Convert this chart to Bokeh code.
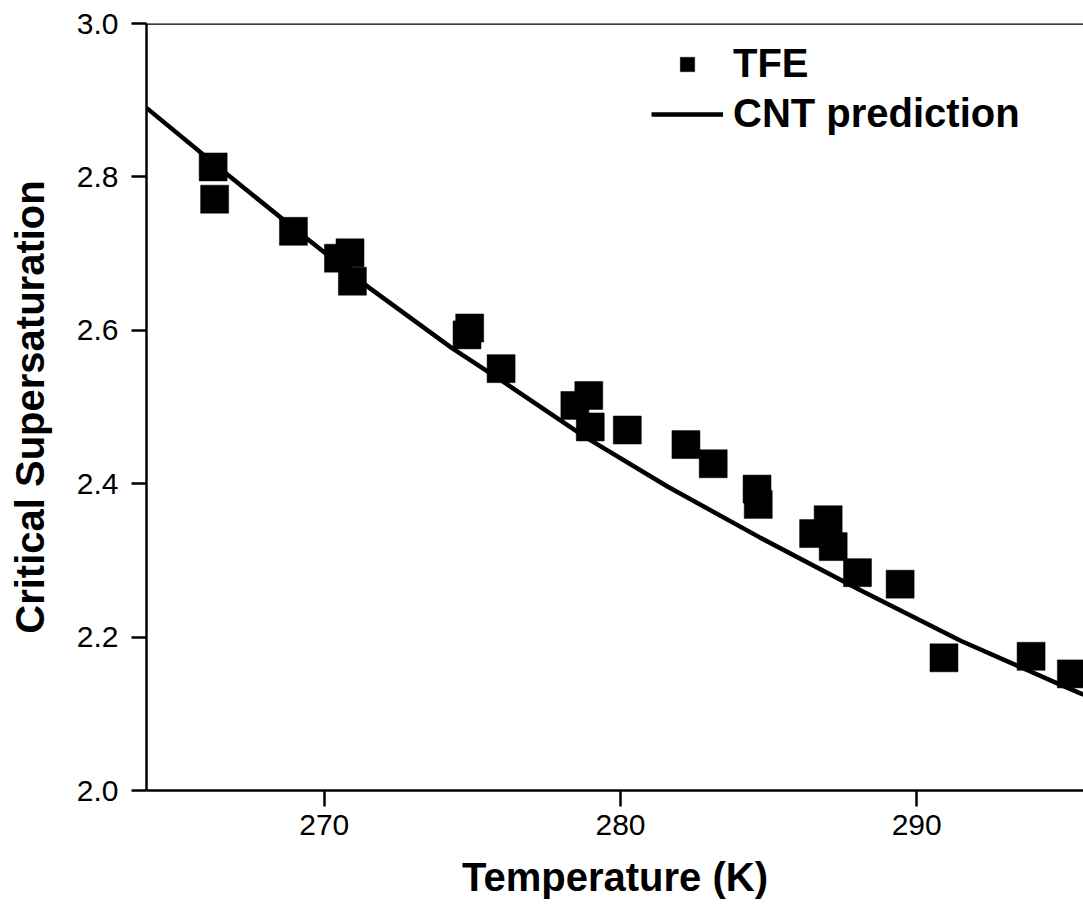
from bokeh.plotting import figure
from bokeh.models import (LinearAxis, FixedTicker, PrintfTickFormatter, Range1d,
                          Legend, LegendItem, Span)
from bokeh.embed import file_html
from bokeh.resources import INLINE

# ---- data ----
tfe_temp = [266.25, 266.30, 268.96, 270.48, 270.87, 270.95, 274.82, 274.91,
            275.97, 278.46, 278.93, 278.98, 280.23, 282.21, 283.13, 284.61,
            284.65, 286.52, 287.01, 287.18, 288.00, 289.44, 290.92, 293.86,
            295.22]
tfe_ss = [2.813, 2.771, 2.729, 2.694, 2.701, 2.664, 2.594, 2.603,
          2.550, 2.502, 2.515, 2.474, 2.470, 2.451, 2.426, 2.393,
          2.373, 2.335, 2.353, 2.318, 2.284, 2.269, 2.173, 2.175,
          2.152]
cnt_temp = [264.0, 266.7, 269.4, 271.5, 274.3, 276.0, 278.8, 281.6,
            284.7, 288.1, 291.5, 294.9, 295.63]
cnt_ss = [2.890, 2.804, 2.720, 2.656, 2.577, 2.534, 2.461, 2.396,
          2.330, 2.261, 2.195, 2.137, 2.125]
x_ticks = [270, 280, 290]
y_ticks = [2.0, 2.2, 2.4, 2.6, 2.8, 3.0]

FONT = "Liberation Sans"

p = figure(width=1083, height=909, output_backend="svg", toolbar_location=None,
           x_range=Range1d(264.0, 295.63), y_range=Range1d(2.0, 3.0),
           min_border_left=146, min_border_right=0, min_border_top=23,
           min_border_bottom=119, x_axis_type=None, y_axis_type=None)
p.grid.visible = False
p.outline_line_color = None
p.background_fill_color = "white"
p.border_fill_color = "white"

def style_axis(ax):
    ax.axis_line_width = 2.5
    ax.axis_line_color = "black"
    ax.major_tick_line_width = 2.5
    ax.major_tick_line_color = "black"
    ax.minor_tick_line_color = None
    ax.major_tick_in = 0
    ax.major_label_text_font = FONT
    ax.major_label_text_font_size = "30px"
    ax.major_label_text_color = "black"
    ax.axis_label_text_font = FONT
    ax.axis_label_text_font_size = "40px"
    ax.axis_label_text_font_style = "bold"
    ax.axis_label_text_color = "black"

xaxis = LinearAxis(ticker=FixedTicker(ticks=x_ticks), axis_label="Temperature (K)")
style_axis(xaxis)
xaxis.major_tick_out = 16
xaxis.major_label_standoff = 8
xaxis.axis_label_standoff = 17
p.add_layout(xaxis, "below")

yaxis = LinearAxis(ticker=FixedTicker(ticks=y_ticks),
                   formatter=PrintfTickFormatter(format="%.1f"),
                   axis_label="Critical Supersaturation")
style_axis(yaxis)
yaxis.major_tick_out = 15
yaxis.major_label_standoff = 13
yaxis.axis_label_standoff = 22
p.add_layout(yaxis, "left")

# top border of the frame
p.add_layout(Span(location=3.0, dimension="width", line_color="black",
                  line_width=2.5))

r_line = p.line(cnt_temp, cnt_ss, line_color="black", line_width=4.5)
r_pts = p.scatter(tfe_temp, tfe_ss, marker="square", size=28,
                  fill_color="black", line_color="black", line_width=0.5)

legend = Legend(items=[LegendItem(label="TFE", renderers=[r_pts]),
                       LegendItem(label="CNT prediction", renderers=[r_line])],
                location=(505, 654), padding=0, margin=0, spacing=5,
                glyph_width=72, glyph_height=36, label_standoff=10,
                label_text_font=FONT, label_text_font_size="40px",
                label_text_font_style="bold", label_text_color="black",
                border_line_color=None, background_fill_alpha=0)
p.add_layout(legend, "center")

open("out.html", "w").write(file_html(p, INLINE))
